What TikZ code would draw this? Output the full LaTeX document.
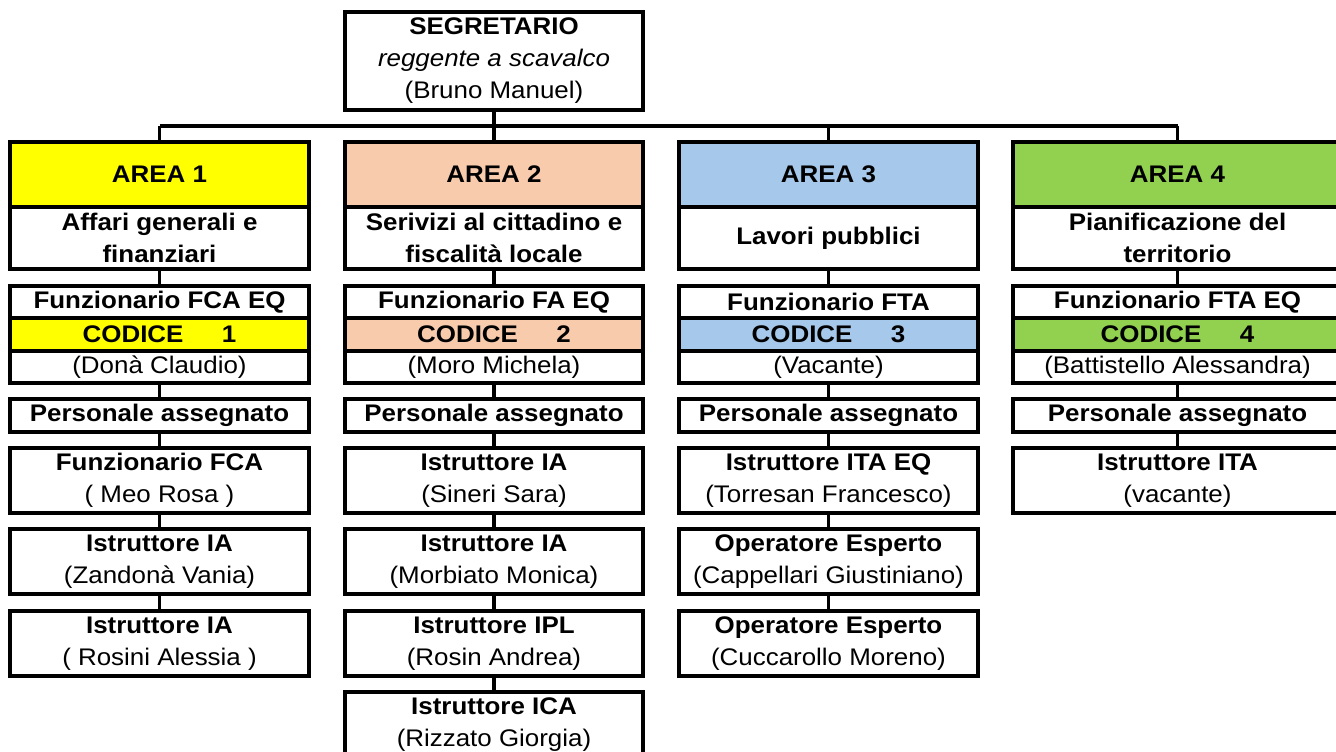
\documentclass[tikz,border=0pt]{standalone}
\usepackage{fontspec}
\setmainfont{Liberation Sans}[FakeStretch=1.08]
\definecolor{cyel}{HTML}{FFFF00}
\definecolor{cpea}{HTML}{F8CBAD}
\definecolor{cblu}{HTML}{A6C8EA}
\definecolor{cgrn}{HTML}{92D050}
\newcommand\mybox[7]{\node[box,fill=#6,minimum width={(#4-#2)*0.75pt},minimum height={(#5-#3)*0.75pt}] (#1) at ({(#2+#4)/2},{(#3+#5)/2}) {#7};}
\newcommand\cod[1]{\bfseries CODICE\hspace{1.6em}#1}
\tikzset{
  box/.style={draw, line width=2.4pt, inner sep=0pt, outer sep=0pt, align=center,
    font=\fontsize{18}{24}\selectfont},
  conn/.style={line width=2.4pt},
}
\begin{document}
\begin{tikzpicture}[x=0.75pt,y=-0.75pt]
\useasboundingbox[fill=white] (0,0) rectangle (1336,751);
% top
\mybox{top}{345}{12}{643}{110}{white}{\bfseries SEGRETARIO\\ \itshape reggente a scavalco\\ (Bruno Manuel)}
\coordinate (bus) at (0,126);
% column 1
\mybox{a1h}{10}{142}{309}{207}{cyel}{\bfseries AREA 1}
\mybox{a1s}{10}{207}{309}{269}{white}{\bfseries Affari generali e\\ \bfseries finanziari}
\mybox{f1}{10}{286}{309}{318}{white}{\bfseries Funzionario FCA EQ}
\mybox{k1}{10}{318}{309}{351}{cyel}{\cod{1}}
\mybox{n1}{10}{351}{309}{383}{white}{(Donà Claudio)}
\mybox{p1}{10}{399}{309}{432}{white}{\bfseries Personale assegnato}
\mybox{r11}{10}{448}{309}{513}{white}{\bfseries Funzionario FCA\\ ( Meo Rosa )}
\mybox{r12}{10}{529}{309}{594}{white}{\bfseries Istruttore IA\\ (Zandonà Vania)}
\mybox{r13}{10}{611}{309}{676}{white}{\bfseries Istruttore IA\\ ( Rosini Alessia )}
% column 2
\mybox{a2h}{345}{142}{643}{207}{cpea}{\bfseries AREA 2}
\mybox{a2s}{345}{207}{643}{269}{white}{\bfseries Serivizi al cittadino e\\ \bfseries fiscalità locale}
\mybox{f2}{345}{286}{643}{318}{white}{\bfseries Funzionario FA EQ}
\mybox{k2}{345}{318}{643}{351}{cpea}{\cod{2}}
\mybox{n2}{345}{351}{643}{383}{white}{(Moro Michela)}
\mybox{p2}{345}{399}{643}{432}{white}{\bfseries Personale assegnato}
\mybox{r21}{345}{448}{643}{513}{white}{\bfseries Istruttore IA\\ (Sineri Sara)}
\mybox{r22}{345}{529}{643}{594}{white}{\bfseries Istruttore IA\\ (Morbiato Monica)}
\mybox{r23}{345}{611}{643}{676}{white}{\bfseries Istruttore IPL\\ (Rosin Andrea)}
\mybox{r24}{345}{692}{643}{757}{white}{\bfseries Istruttore ICA\\ (Rizzato Giorgia)}
% column 3
\mybox{a3h}{679}{142}{978}{207}{cblu}{\bfseries AREA 3}
\mybox{a3s}{679}{207}{978}{269}{white}{\bfseries Lavori pubblici}
\mybox{f3}{679}{286}{978}{318}{white}{\bfseries Funzionario FTA}
\mybox{k3}{679}{318}{978}{351}{cblu}{\cod{3}}
\mybox{n3}{679}{351}{978}{383}{white}{(Vacante)}
\mybox{p3}{679}{399}{978}{432}{white}{\bfseries Personale assegnato}
\mybox{r31}{679}{448}{978}{513}{white}{\bfseries Istruttore ITA EQ\\ (Torresan Francesco)}
\mybox{r32}{679}{529}{978}{594}{white}{\bfseries Operatore Esperto\\ (Cappellari Giustiniano)}
\mybox{r33}{679}{611}{978}{676}{white}{\bfseries Operatore Esperto\\ (Cuccarollo Moreno)}
% column 4
\mybox{a4h}{1013}{142}{1342}{207}{cgrn}{\bfseries AREA 4}
\mybox{a4s}{1013}{207}{1342}{269}{white}{\bfseries Pianificazione del\\ \bfseries territorio}
\mybox{f4}{1013}{286}{1342}{318}{white}{\bfseries Funzionario FTA EQ}
\mybox{k4}{1013}{318}{1342}{351}{cgrn}{\cod{4}}
\mybox{n4}{1013}{351}{1342}{383}{white}{(Battistello Alessandra)}
\mybox{p4}{1013}{399}{1342}{432}{white}{\bfseries Personale assegnato}
\mybox{r41}{1013}{448}{1342}{513}{white}{\bfseries Istruttore ITA\\ (vacante)}
% connectors
\draw[conn] (top.south) -- (top.south |- bus);
\draw[conn] (a1h.north |- bus) -- (a4h.north |- bus);
\foreach \c in {1,2,3,4}{
  \draw[conn] (a\c h.north |- bus) -- (a\c h.north);
  \draw[conn] (a\c s.south) -- (f\c.north);
  \draw[conn] (n\c.south) -- (p\c.north);
  \draw[conn] (p\c.south) -- (r\c 1.north);
}
\draw[conn] (r11.south) -- (r12.north);
\draw[conn] (r12.south) -- (r13.north);
\draw[conn] (r21.south) -- (r22.north);
\draw[conn] (r22.south) -- (r23.north);
\draw[conn] (r23.south) -- (r24.north);
\draw[conn] (r31.south) -- (r32.north);
\draw[conn] (r32.south) -- (r33.north);
\end{tikzpicture}
\end{document}
